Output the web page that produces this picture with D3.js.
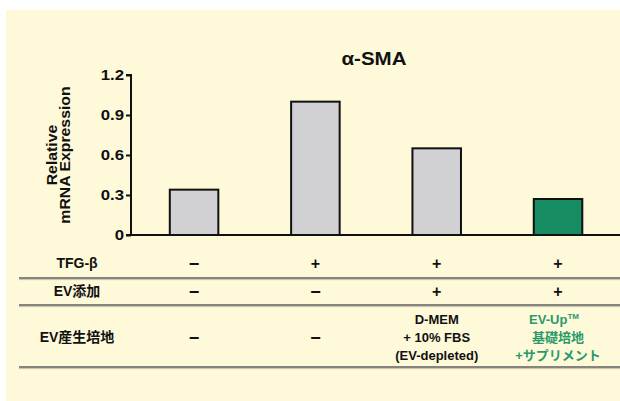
<!DOCTYPE html>
<html>
<head>
<meta charset="utf-8">
<script src="https://cdn.jsdelivr.net/npm/d3@7"></script>
<style>
  html, body { margin: 0; padding: 0; background: #ffffff; }
  svg { display: block; font-family: "Liberation Sans", Arial, "Noto Sans CJK JP", sans-serif; }
</style>
</head>
<body>
<svg id="chart" width="620" height="401"></svg>
<script>
// α-SMA relative expression per condition
const categories = ["ctrl", "tgf", "dmem", "evup"];
const values = [0.34, 1.0, 0.65, 0.27];
const barColors = ["#d1d1d4", "#d1d1d4", "#d1d1d4", "#178c62"];
const yTicks = [0, 0.3, 0.6, 0.9, 1.2];
const yTickLabels = ["0", "0.3", "0.6", "0.9", "1.2"];

// condition table below the chart
const rowLabels = ["TFG-β", "EV添加", "EV産生培地"];
const tgfRow = ["−", "+", "+", "+"];
const evAddRow = ["−", "−", "+", "+"];
const mediumRow = [["−"], ["−"], ["D-MEM", "+ 10% FBS", "(EV-depleted)"], ["EV-Up™", "基礎培地", "+サプリメント"]];
const mediumColors = ["#111", "#111", "#111", "#2a9a6c"];

const svg = d3.select("#chart");

// panel background
svg.append("rect").attr("x", 6).attr("y", 10).attr("width", 614).attr("height", 391).attr("fill", "#fef9d9");

const x = d3.scaleBand().domain(categories).range([133.4, 618.7]).paddingInner(0.6).paddingOuter(0.3);
const y = d3.scaleLinear().domain([0, 1.2]).range([235, 75]);

// text placed at (px, py) with a slight horizontal widening
function wideText(parent, px, py, sx, rot) {
  return parent.append("text")
    .attr("transform", `translate(${px},${py})${rot ? ` rotate(${rot})` : ""} scale(${sx},1)`);
}

// title
wideText(svg, 374, 65, 1.14).attr("text-anchor", "middle")
  .attr("font-size", 18).attr("font-weight", "bold").attr("fill", "#111").text("α-SMA");

// y axis
const yAxis = svg.append("g").attr("transform", "translate(131,0)")
  .call(d3.axisLeft(y).tickValues(yTicks).tickFormat((d, i) => yTickLabels[i]).tickSize(5).tickPadding(7));
yAxis.select(".domain").attr("stroke", "#111").attr("stroke-width", 2).attr("d", "M-5,75H0V235");
yAxis.selectAll(".tick line").attr("stroke", "#111").attr("stroke-width", 2);
yAxis.selectAll(".tick text").attr("font-size", 14).attr("font-weight", "bold").attr("fill", "#111")
  .attr("font-family", "Liberation Sans, Arial, sans-serif")
  .attr("transform", "translate(-7,0) scale(1.2,1)").attr("x", 0).attr("dy", "0.34em");

// y axis title
const yt1 = wideText(svg, 57, 155, 1.13, -90).attr("text-anchor", "middle")
  .attr("font-size", 14).attr("font-weight", "bold").attr("fill", "#111").text("Relative");
const yt2 = wideText(svg, 69.5, 155, 1.13, -90).attr("text-anchor", "middle")
  .attr("font-size", 14).attr("font-weight", "bold").attr("fill", "#111").text("mRNA Expression");

// bars
svg.append("g").selectAll("rect").data(categories).join("rect")
  .attr("x", d => x(d))
  .attr("y", (d, i) => y(values[i]))
  .attr("width", x.bandwidth())
  .attr("height", (d, i) => y(0) - y(values[i]))
  .attr("fill", (d, i) => barColors[i])
  .attr("stroke", "#111").attr("stroke-width", 2);

// baseline
svg.append("line").attr("x1", 126).attr("x2", 620).attr("y1", y(0)).attr("y2", y(0))
  .attr("stroke", "#111").attr("stroke-width", 2);

// table separators
[278, 305, 367].forEach(ly => {
  svg.append("line").attr("x1", 19).attr("x2", 620).attr("y1", ly).attr("y2", ly)
    .attr("stroke", "#85857d").attr("stroke-width", 1.8);
  svg.append("line").attr("x1", 19).attr("x2", 620).attr("y1", ly + 1.6).attr("y2", ly + 1.6)
    .attr("stroke", "#c4c1aa").attr("stroke-width", 1);
});

// row labels
const rowY = [268, 296, 342];
rowLabels.forEach((t, i) => {
  svg.append("text").attr("x", 77).attr("y", rowY[i]).attr("text-anchor", "middle")
    .attr("font-size", 14).attr("font-weight", "bold").attr("fill", "#111").text(t);
});

const cx = d => x(d) + x.bandwidth() / 2;
function signText(sel) {
  return sel.attr("text-anchor", "middle").attr("font-weight", "bold").attr("fill", "#111")
    .attr("font-size", s => s === "−" ? 18 : 16);
}
function signRow(arr, yy) {
  svg.append("g").selectAll("text").data(arr).join("text")
    .attr("x", (s, i) => cx(categories[i]))
    .attr("y", s => s === "−" ? yy + 1.5 : yy)
    .call(signText)
    .text(s => s);
}
signRow(tgfRow, 268.5);
signRow(evAddRow, 296.5);

// medium row
categories.forEach((c, i) => {
  const lines = mediumRow[i];
  if (lines.length === 1) {
    svg.append("text").datum(lines[0]).attr("x", cx(c)).attr("y", 343.5).call(signText).text(lines[0]);
    return;
  }
  lines.forEach((ln, j) => {
    const ty = 324 + j * 18;
    const t = svg.append("text").attr("y", ty).attr("text-anchor", "middle")
      .attr("font-size", 13).attr("font-weight", "bold").attr("fill", mediumColors[i]);
    if (ln.endsWith("™")) {
      t.attr("x", cx(c) - 4);
      t.append("tspan").text(ln.slice(0, -1));
      t.append("tspan").attr("font-size", 8).attr("dy", -5).text("TM");
    } else {
      t.attr("x", cx(c)).text(ln);
    }
  });
});
</script>
</body>
</html>
